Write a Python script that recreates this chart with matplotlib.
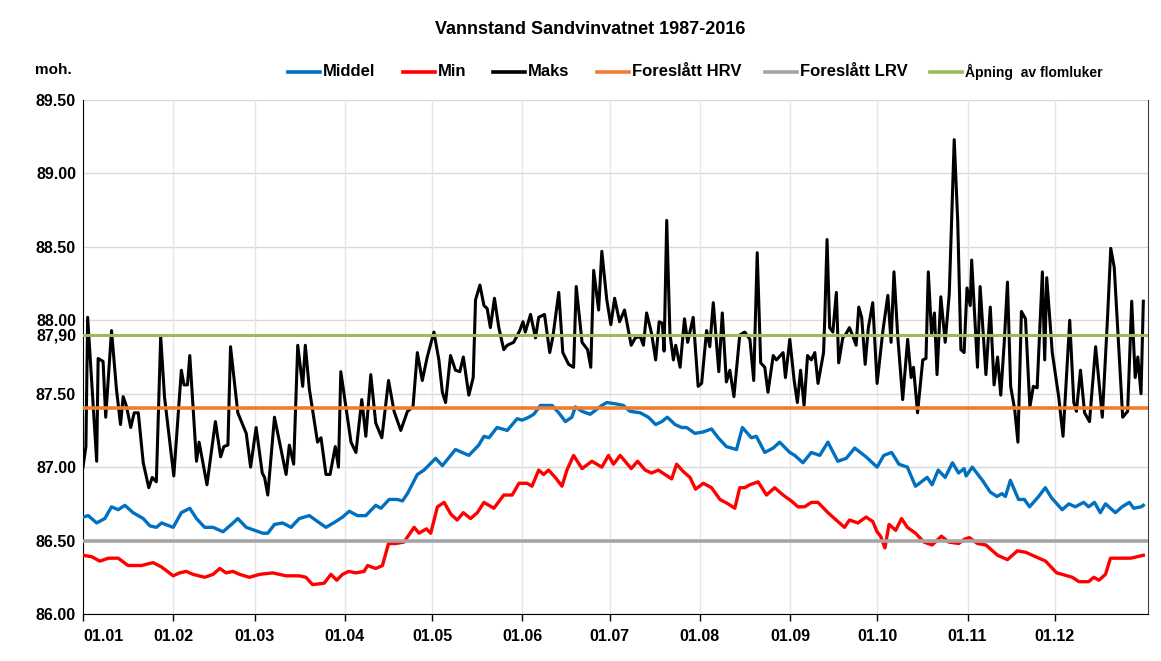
import matplotlib
matplotlib.use("Agg")
import matplotlib.pyplot as plt
from matplotlib.lines import Line2D

plt.rcParams["font.family"] = ["Liberation Sans", "DejaVu Sans"]

# day of year, level (moh.)
middel = [(0, 86.66), (1.8, 86.67), (4.7, 86.62), (7.5, 86.65), (9.8, 86.73), (12.1, 86.71), (14.4, 86.74),
          (17.2, 86.69), (20.7, 86.65), (23, 86.60), (25.2, 86.59), (27, 86.62), (31, 86.59), (33.8, 86.69),
          (36.7, 86.72), (39, 86.65), (41.8, 86.59), (44.7, 86.59), (48.1, 86.56), (51, 86.61), (53.2, 86.65),
          (56.1, 86.59), (58.9, 86.57), (61.8, 86.55), (63.5, 86.55), (65.8, 86.61), (68.6, 86.62), (71.5, 86.59),
          (74.3, 86.65), (77.8, 86.67), (80.6, 86.63), (83.5, 86.59), (86.9, 86.63), (89.2, 86.66), (91.5, 86.70),
          (94.3, 86.67), (97.2, 86.67), (100.6, 86.74), (102.4, 86.72), (105.2, 86.78), (108, 86.78), (109.8, 86.77),
          (111.5, 86.82), (114.9, 86.95), (117.2, 86.98), (121.2, 87.06), (123.5, 87.01), (128, 87.12), (132.6, 87.08),
          (136, 87.15), (137.8, 87.21), (139.5, 87.20), (142.3, 87.27), (145.8, 87.25), (149.2, 87.33), (150.9, 87.32),
          (153.2, 87.34), (154.9, 87.36), (157.2, 87.42), (161.2, 87.42), (163.5, 87.37), (165.8, 87.31), (168, 87.34),
          (169.2, 87.41), (171.5, 87.38), (174.3, 87.36), (178.3, 87.42), (180, 87.44), (183.4, 87.43), (185.7, 87.42),
          (188, 87.38), (191.5, 87.37), (194.3, 87.34), (196.8, 87.29), (198.9, 87.31), (200.8, 87.34), (203.5, 87.29),
          (205.7, 87.27), (207.4, 87.27), (210.3, 87.23), (213.2, 87.24), (216, 87.26), (218.3, 87.20), (221.1, 87.14),
          (224.6, 87.12), (226.6, 87.27), (229.7, 87.20), (231.4, 87.21), (234.3, 87.10), (237.2, 87.13), (239.4, 87.17),
          (242.9, 87.10), (244.6, 87.08), (247.4, 87.03), (250.3, 87.10), (253.2, 87.08), (256, 87.17), (259.4, 87.04),
          (262.3, 87.06), (265.2, 87.13), (269.1, 87.07), (272.9, 87.00), (275.2, 87.08), (277.9, 87.10), (280.4, 87.02),
          (283.3, 87.00), (286.1, 86.87), (290.1, 86.93), (291.8, 86.88), (293.9, 86.98), (296.3, 86.93), (298.8, 87.03),
          (300.9, 86.96), (302.8, 86.99), (303.5, 86.94), (305.6, 87.00), (309.1, 86.91), (311.8, 86.83), (314.1, 86.80),
          (315.8, 86.82), (317, 86.80), (318.7, 86.91), (321.5, 86.78), (323.5, 86.78), (325.3, 86.73), (328.4, 86.80),
          (330.7, 86.86), (332.9, 86.79), (336.5, 86.71), (338.8, 86.75), (341, 86.73), (343.9, 86.76), (345.6, 86.73),
          (347.6, 86.76), (349.6, 86.69), (351.4, 86.75), (354.8, 86.69), (357.1, 86.73), (359.6, 86.76), (361.1, 86.72),
          (363.7, 86.73), (364.4, 86.74)]

minimum = [(0, 86.40), (3, 86.39), (5.8, 86.36), (8.7, 86.38), (12.1, 86.38), (15.5, 86.33), (20.1, 86.33),
           (24.1, 86.35), (27, 86.32), (31, 86.26), (33.2, 86.28), (35.5, 86.29), (37.8, 86.27), (41.8, 86.25),
           (44.7, 86.27), (47, 86.31), (49.2, 86.28), (51.5, 86.29), (53.8, 86.27), (57.2, 86.25), (60.7, 86.27),
           (65.2, 86.28), (69.8, 86.26), (74.3, 86.26), (76.6, 86.25), (78.9, 86.20), (82.9, 86.21), (85.2, 86.27),
           (87.2, 86.23), (89.2, 86.27), (91.3, 86.29), (93.8, 86.28), (96.6, 86.29), (97.8, 86.33), (100.6, 86.31),
           (102.9, 86.33), (105, 86.48), (107.5, 86.48), (110.3, 86.49), (113.8, 86.59), (115.5, 86.55), (118, 86.58),
           (119.5, 86.55), (121.8, 86.73), (124.1, 86.76), (126.4, 86.68), (128.6, 86.64), (130.7, 86.69), (133.2, 86.65),
           (135.5, 86.69), (137.8, 86.76), (141.2, 86.72), (144.6, 86.81), (147.5, 86.81), (149.8, 86.89), (152.6, 86.89),
           (154.3, 86.87), (156.6, 86.98), (158.3, 86.95), (160, 86.98), (162.3, 86.93), (164.6, 86.87), (166.3, 86.98),
           (168.6, 87.08), (171.5, 86.99), (174.9, 87.04), (178.3, 87.00), (180.6, 87.08), (182.3, 87.02), (184.6, 87.08),
           (186.3, 87.04), (188.4, 86.99), (190.6, 87.04), (193.2, 86.98), (195.4, 86.96), (197.7, 86.98), (200, 86.95),
           (202.3, 86.92), (204, 87.02), (206.3, 86.97), (208.6, 86.93), (210.5, 86.85), (213.2, 86.89), (216, 86.86),
           (218.9, 86.78), (221.7, 86.75), (224, 86.72), (225.7, 86.86), (227.4, 86.86), (229.2, 86.88), (232, 86.90),
           (234.9, 86.81), (237.7, 86.86), (240.6, 86.81), (243.4, 86.77), (245.7, 86.73), (248, 86.73), (250.3, 86.76),
           (252.6, 86.76), (256, 86.69), (259.4, 86.63), (261.7, 86.59), (263.4, 86.64), (266.3, 86.62), (269.1, 86.66),
           (271.4, 86.63), (272.9, 86.56), (274.1, 86.53), (275.6, 86.45), (277, 86.61), (279.3, 86.57), (281.3, 86.65),
           (283.3, 86.59), (286.1, 86.55), (289, 86.49), (291.8, 86.47), (295, 86.53), (297.5, 86.49), (300.9, 86.48),
           (303, 86.51), (304.6, 86.52), (307.4, 86.48), (310.3, 86.47), (314.3, 86.40), (317.7, 86.37), (321.1, 86.43),
           (324, 86.42), (327.4, 86.39), (330.8, 86.36), (334.6, 86.28), (336.5, 86.27), (340, 86.25), (342.3, 86.22),
           (345.6, 86.22), (347.4, 86.25), (349.1, 86.23), (351.4, 86.27), (353.1, 86.38), (357.1, 86.38), (360, 86.38),
           (362.3, 86.39), (364.4, 86.40)]

maks = [(0, 87.00), (1, 87.14), (1.6, 88.02), (4.7, 87.04), (5.2, 87.74), (6.9, 87.72), (7.8, 87.34), (9.8, 87.93),
        (11.5, 87.53), (12.9, 87.29), (13.8, 87.48), (15, 87.41), (16.4, 87.27), (17.6, 87.37), (19, 87.37),
        (20.7, 87.03), (22.6, 86.86), (23.8, 86.93), (25.2, 86.90), (26.7, 87.89), (28, 87.48), (31.2, 86.94),
        (33.8, 87.66), (34.7, 87.56), (35.9, 87.56), (36.7, 87.76), (39, 87.04), (39.9, 87.17), (42.6, 86.88),
        (45.5, 87.31), (47.3, 87.07), (48.4, 87.14), (49.8, 87.15), (50.7, 87.82), (53.2, 87.37), (56.1, 87.23),
        (57.6, 87.00), (59.5, 87.27), (61.6, 86.96), (62.4, 86.93), (63.5, 86.81), (65.8, 87.34), (69.8, 86.95),
        (70.9, 87.15), (72.4, 87.02), (73.8, 87.83), (75.5, 87.55), (76.4, 87.83), (77.8, 87.53), (80.6, 87.17),
        (81.8, 87.20), (83.5, 86.95), (84.9, 86.95), (86.7, 87.14), (87.8, 87.00), (88.6, 87.65), (92.1, 87.17),
        (93.8, 87.10), (95.8, 87.46), (97.2, 87.21), (98.9, 87.63), (100.6, 87.30), (102.7, 87.20), (105, 87.59),
        (106.9, 87.38), (109.2, 87.25), (111.5, 87.38), (113.4, 87.41), (114.9, 87.78), (116.6, 87.59), (118.3, 87.75),
        (120.6, 87.92), (122.3, 87.73), (123.5, 87.51), (124.6, 87.44), (126.3, 87.76), (128, 87.66), (129.5, 87.65),
        (130.7, 87.75), (132.6, 87.49), (134.1, 87.61), (134.9, 88.14), (136.4, 88.24), (137.8, 88.10), (138.9, 88.08),
        (140, 87.95), (141.4, 88.15), (142.9, 87.95), (144.6, 87.80), (145.8, 87.83), (148, 87.85), (150.1, 87.93),
        (151.2, 87.99), (152, 87.92), (153.8, 88.04), (155.5, 87.88), (156.6, 88.02), (158.6, 88.04), (160.4, 87.78),
        (161.5, 87.89), (163.5, 88.19), (164.9, 87.78), (166.9, 87.70), (168.6, 87.68), (169.5, 88.23), (171.5, 87.85),
        (173.4, 87.80), (174.5, 87.68), (175.5, 88.34), (177.2, 88.07), (178.3, 88.47), (180, 88.14), (181.4, 87.97),
        (182.7, 88.15), (184.4, 87.99), (186.1, 88.07), (188.4, 87.83), (189.8, 87.88), (191.5, 87.89), (192.6, 87.83),
        (193.7, 88.05), (195.4, 87.91), (196.8, 87.73), (198, 87.99), (199.1, 87.98), (199.7, 87.79), (200.6, 88.68),
        (201.7, 87.91), (202.9, 87.73), (203.7, 87.83), (205.2, 87.68), (206.7, 88.01), (207.8, 87.85), (209.7, 88.02),
        (211.4, 87.55), (212.6, 87.57), (214.3, 87.93), (215.4, 87.82), (216.6, 88.12), (218.5, 87.65), (219.7, 88.05),
        (221.1, 87.58), (222.3, 87.66), (223.7, 87.48), (225.7, 87.90), (227.4, 87.92), (229.2, 87.87), (230.5, 87.59),
        (231.7, 88.46), (232.9, 87.71), (234.3, 87.68), (235.4, 87.51), (237.2, 87.76), (238.3, 87.73), (240.6, 87.78),
        (241.4, 87.61), (242.9, 87.87), (244.4, 87.59), (245.5, 87.44), (246.6, 87.66), (247.8, 87.42), (249, 87.76),
        (250.3, 87.73), (251.5, 87.78), (252.6, 87.57), (254.5, 87.78), (254.9, 88.00), (255.7, 88.55), (256.6, 87.95),
        (257.7, 87.92), (258.9, 88.19), (259.7, 87.71), (261.1, 87.88), (262.3, 87.91), (263.4, 87.95), (264.6, 87.89),
        (265.7, 87.83), (266.6, 88.09), (267.6, 88.02), (268.8, 87.70), (269.9, 87.95), (271.4, 88.12), (272.9, 87.57),
        (274.9, 87.93), (276.6, 88.17), (277.7, 87.85), (278.7, 88.33), (280, 87.89), (281.7, 87.46), (283.4, 87.87),
        (284.6, 87.61), (285.4, 87.68), (286.8, 87.37), (288.6, 87.73), (289.7, 87.74), (290.5, 88.33), (291.6, 87.91),
        (292.6, 88.05), (293.5, 87.63), (294.8, 88.16), (296.3, 87.85), (297.7, 88.18), (299.4, 89.23), (300.6, 88.68),
        (301.7, 87.80), (302.8, 87.78), (303.8, 88.22), (304.9, 88.10), (305.4, 88.41), (307.4, 87.68), (308.3, 88.23),
        (310.3, 87.63), (311.8, 88.09), (313.1, 87.56), (314.3, 87.75), (315.4, 87.49), (316.6, 87.85), (317.7, 88.26),
        (318.8, 87.55), (320.2, 87.39), (321.3, 87.17), (322.5, 88.06), (323.9, 88.01), (325.4, 87.41), (326.6, 87.55),
        (327.9, 87.54), (329.7, 88.33), (330.5, 87.73), (331.2, 88.29), (333.1, 87.78), (335.3, 87.48), (336.8, 87.21),
        (339.1, 88.00), (340.5, 87.44), (341.4, 87.38), (342.8, 87.66), (344.2, 87.37), (345.9, 87.31), (348, 87.82),
        (350.3, 87.34), (352.1, 88.02), (353.2, 88.49), (354.4, 88.36), (357.3, 87.34), (359, 87.38), (360.4, 88.13),
        (361.6, 87.61), (362.5, 87.75), (363.6, 87.50), (364.4, 88.13)]

hrv = 87.40
lrv = 86.50
flomluker = 87.90

month_days = [0, 31, 59, 90, 120, 151, 181, 212, 243, 273, 304, 334]
month_labels = ["01.01", "01.02", "01.03", "01.04", "01.05", "01.06",
                "01.07", "01.08", "01.09", "01.10", "01.11", "01.12"]
y_ticks = [86.0, 86.5, 87.0, 87.5, 88.0, 88.5, 89.0, 89.5]

c_blue = "#0070C0"
c_red = "#FF0000"
c_orange = "#ED7D31"
c_gray = "#A5A5A5"
c_green = "#9BBB59"

W, H = 1161, 661
fig = plt.figure(figsize=(W / 100, H / 100), dpi=100)
ax = fig.add_axes([83 / W, 1 - 614 / H, (1148 - 83) / W, (614 - 100) / H])

ax.plot([d for d, v in middel], [v for d, v in middel], color=c_blue, lw=2.4, zorder=3)
ax.plot([d for d, v in minimum], [v for d, v in minimum], color=c_red, lw=2.4, zorder=3)
ax.plot([d for d, v in maks], [v for d, v in maks], color="black", lw=2.2, zorder=4)
ax.axhline(hrv, color=c_orange, lw=2.6, zorder=5)
ax.axhline(lrv, color=c_gray, lw=2.6, zorder=5)
ax.axhline(flomluker, color=c_green, lw=2.2, zorder=5)

ax.set_xlim(0, 366)
ax.set_ylim(86.0, 89.5)

ax.set_yticks(y_ticks + [flomluker])
ax.set_yticklabels(["%.2f" % t for t in y_ticks] + ["87,90"], fontsize=11.5, fontweight="bold")
ax.set_xticks(month_days)
ax.set_xticklabels(month_labels, fontsize=11.5, fontweight="bold")
ax.get_xticklabels()[0].set_horizontalalignment("left")
ax.tick_params(axis="y", length=0, pad=5)
ax.tick_params(axis="x", length=5, width=1, pad=6)

for t in y_ticks:
    ax.axhline(t, color="#D9D9D9", lw=1, zorder=1)
for d in month_days[1:]:
    ax.axvline(d, color="#E6E6E6", lw=1, zorder=1)

ax.spines["top"].set_visible(False)
ax.spines["right"].set_color("#404040")
ax.spines["right"].set_linewidth(0.8)
ax.spines["left"].set_color("black")
ax.spines["bottom"].set_color("black")

fig.text(590 / W, 1 - 30 / H, "Vannstand Sandvinvatnet 1987-2016", ha="center", va="center",
         fontsize=13, fontweight="bold")
fig.text(35 / W, 1 - 70 / H, "moh.", ha="left", va="center", fontsize=11, fontweight="bold")

# legend drawn across the top row
legend_items = [("Middel", c_blue, 288, 12),
                ("Min", c_red, 403, 12),
                ("Maks", "black", 493, 12),
                ("Foreslått HRV", c_orange, 597, 12),
                ("Foreslått LRV", c_gray, 765, 12),
                ("Åpning  av flomluker", c_green, 930, 10)]
ly = 1 - 72 / H
for label, col, x0, fs in legend_items:
    fig.add_artist(Line2D([x0 / W, (x0 + 32) / W], [ly, ly], color=col, lw=2.6,
                          transform=fig.transFigure))
    fig.text((x0 + 35) / W, ly, label, ha="left", va="center", fontsize=fs, fontweight="bold")

fig.savefig("out.png", dpi=100)
